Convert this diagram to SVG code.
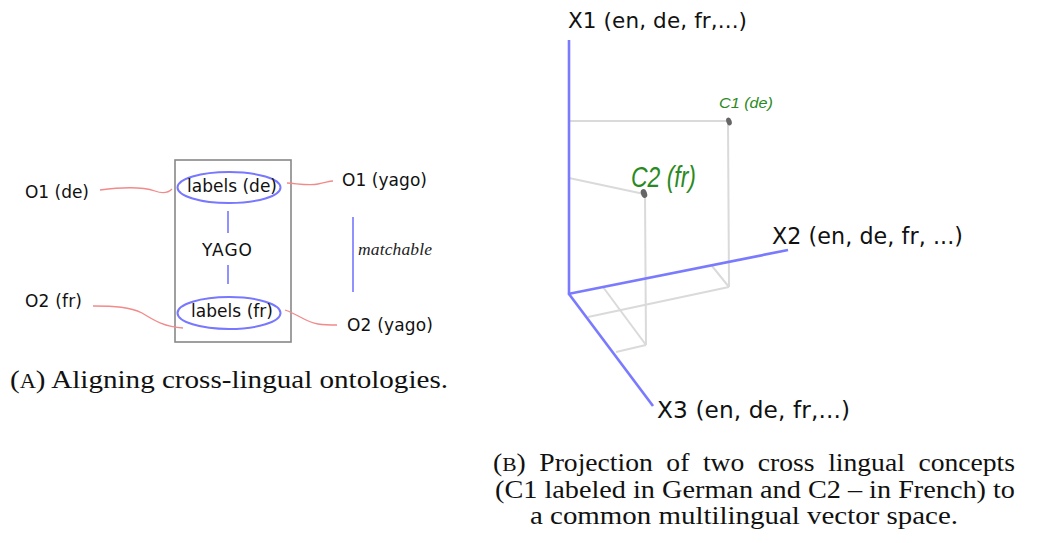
<svg xmlns="http://www.w3.org/2000/svg" width="1039" height="543" viewBox="0 0 1039 543">
<style>
.sans{font-family:"DejaVu Sans","Liberation Sans",sans-serif;font-size:17px;fill:#111}
.ax{font-family:"DejaVu Sans","Liberation Sans",sans-serif;fill:#111}
.ser{font-family:"Liberation Serif","DejaVu Serif",serif;fill:#111}
.it{font-family:"Liberation Serif",serif;font-style:italic;font-size:17.5px;fill:#222}
.grn{font-family:"Liberation Sans",sans-serif;font-style:italic;fill:#2a8a22}
.red{fill:none;stroke:#f28a8a;stroke-width:1.3}
.blu{fill:none;stroke:#7676ff;stroke-width:1.6}
.axis{fill:none;stroke:#7a7aff;stroke-width:2.6}
.grey{fill:none;stroke:#dadada;stroke-width:2}
.ell{fill:none;stroke:#7777ff;stroke-width:2}
</style>
<rect width="1039" height="543" fill="#fff"/>

<!-- Panel A -->
<g id="yago-box"><rect x="175" y="160" width="116" height="182" fill="none" stroke="#888" stroke-width="1.6"/>
<text class="sans" x="202" y="256" textLength="50">YAGO</text></g>
<g id="labels-de"><ellipse class="ell" cx="229" cy="187.5" rx="51.5" ry="15.5"/>
<text class="sans" x="187" y="192" textLength="90">labels (de)</text></g>
<g id="labels-fr"><ellipse class="ell" cx="229" cy="313" rx="51.5" ry="16"/>
<text class="sans" x="191" y="317" textLength="82">labels (fr)</text></g>
<g id="o1-de"><text class="sans" x="25" y="198" textLength="64">O1 (de)</text></g>
<g id="o1-yago"><text class="sans" x="342" y="186" textLength="85">O1 (yago)</text></g>
<g id="o2-fr"><text class="sans" x="25" y="307" textLength="57">O2 (fr)</text></g>
<g id="o2-yago"><text class="sans" x="347" y="331" textLength="86">O2 (yago)</text></g>
<g id="matchable"><line class="blu" x1="353" y1="217" x2="353" y2="292" stroke-width="1.2"/>
<text class="it" x="358" y="255" textLength="74">matchable</text></g>
<g id="connectors">
<path class="red" d="M100,190 C115,188 140,186 155,191 C163,194 168,193 172,189"/>
<path class="red" d="M287,183 C300,184 310,186 318,184 C325,183 329,181 333,181"/>
<path class="red" d="M93,306 C115,306 130,307 142,313 C155,321 165,327 183,328"/>
<path class="red" d="M285,310 C300,315 305,322 318,324 C325,325 330,325 337,325"/>
<line class="blu" x1="228" y1="211" x2="228" y2="233"/>
<line class="blu" x1="228" y1="265" x2="228" y2="284"/>
</g>
<g id="caption-a"><text class="ser" x="10" y="388" font-size="26" textLength="438" lengthAdjust="spacingAndGlyphs">(<tspan font-size="20">A</tspan>) Aligning cross-lingual ontologies.</text></g>

<!-- Panel B -->
<g id="projection-lines">
<line class="grey" x1="569" y1="121" x2="728" y2="121"/>
<line class="grey" x1="728" y1="121" x2="729" y2="287"/>
<line class="grey" x1="729" y1="287" x2="588" y2="317"/>
<line class="grey" x1="729" y1="287" x2="712" y2="266"/>
<line class="grey" x1="569" y1="178" x2="644" y2="194"/>
<line class="grey" x1="645" y1="194" x2="646" y2="345"/>
<line class="grey" x1="646" y1="345" x2="603" y2="287"/>
<line class="grey" x1="646" y1="345" x2="616" y2="352"/>
</g>
<g id="axes">
<line class="axis" x1="569" y1="40" x2="569" y2="295"/>
<line class="axis" x1="568" y1="294" x2="788" y2="250"/>
<line class="axis" x1="569" y1="294" x2="653" y2="406"/>
</g>
<g id="x1"><text class="ax" x="568" y="28" font-size="21.5" textLength="179">X1 (en, de, fr,...)</text></g>
<g id="x2"><text class="ax" x="772" y="244" font-size="22.2" textLength="191">X2 (en, de, fr, ...)</text></g>
<g id="x3"><text class="ax" x="657" y="418" font-size="23.2" textLength="193">X3 (en, de, fr,...)</text></g>
<g id="c1"><ellipse cx="729" cy="121.5" rx="2.6" ry="4" transform="rotate(-20 729 121.5)" fill="#666"/>
<text class="grn" x="719" y="108" font-size="15" textLength="54" lengthAdjust="spacingAndGlyphs">C1 (de)</text></g>
<g id="c2"><ellipse cx="644" cy="193.5" rx="3" ry="4.5" transform="rotate(-20 644 193.5)" fill="#666"/>
<text class="grn" x="631" y="187" font-size="30" textLength="65" lengthAdjust="spacingAndGlyphs">C2 (fr)</text></g>
<g id="caption-b">
<text class="ser" x="493" y="471" font-size="25" textLength="522" lengthAdjust="spacingAndGlyphs" word-spacing="6">(<tspan font-size="19.5">B</tspan>) Projection of two cross lingual concepts</text>
<text class="ser" x="495" y="497.5" font-size="25" textLength="520" lengthAdjust="spacingAndGlyphs">(C1 labeled in German and C2 – in French) to</text>
<text class="ser" x="530" y="524" font-size="25" textLength="428" lengthAdjust="spacingAndGlyphs">a common multilingual vector space.</text>
</g>
</svg>
